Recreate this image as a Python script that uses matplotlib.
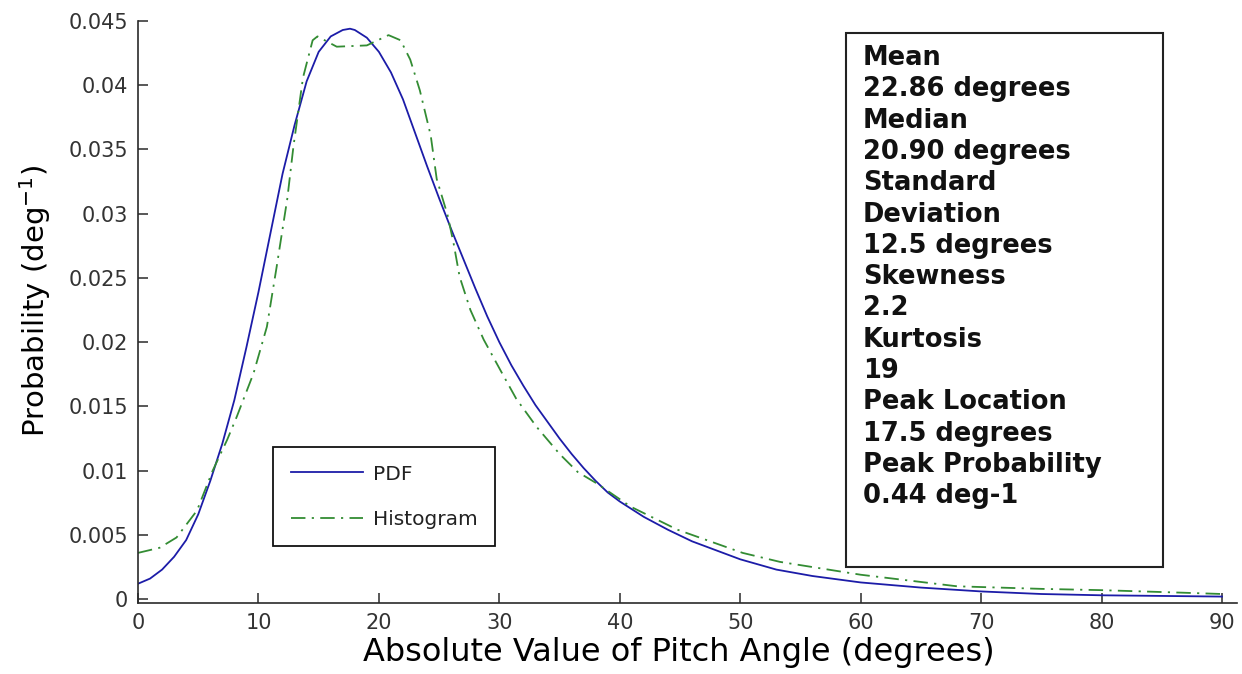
import numpy as np
import matplotlib
matplotlib.use("Agg")
import matplotlib.pyplot as plt
from matplotlib.patches import Rectangle
from matplotlib.ticker import FixedLocator, FixedFormatter

# Fitted probability density of |pitch angle|
pdf_x = [0, 1, 2, 3, 4, 5, 6, 7, 8, 9, 10, 11, 12, 13, 14, 15, 16, 17, 17.6,
         18, 19, 20, 21, 22, 23, 24, 25, 26, 27, 28, 29, 30, 31, 32, 33, 34,
         35, 36, 37, 38, 39, 40, 42, 44, 46, 48, 50, 53, 56, 60, 65, 70, 75,
         80, 85, 90]
pdf_y = [0.0012, 0.0016, 0.0023, 0.0033, 0.0046, 0.0066, 0.0092, 0.0121,
         0.0155, 0.0196, 0.0239, 0.0285, 0.0331, 0.0369, 0.0403, 0.0426,
         0.0438, 0.0443, 0.0444, 0.0443, 0.0437, 0.0426, 0.0410, 0.0389,
         0.0363, 0.0337, 0.0312, 0.0288, 0.0265, 0.0242, 0.0220, 0.0200,
         0.0182, 0.0166, 0.0151, 0.0138, 0.0125, 0.0113, 0.0102, 0.0092,
         0.0083, 0.0076, 0.0064, 0.0054, 0.0045, 0.0038, 0.0031, 0.0023,
         0.0018, 0.0013, 0.0009, 0.0006, 0.0004, 0.0003, 0.00025, 0.0002]

# Normalised histogram of the same angles
hist_x = [0, 1.8, 3.2, 4.9, 6.2, 7.4, 8.2, 9.6, 10.7, 11.5, 12.4, 12.9, 13.7,
          14.5, 14.9, 16.5, 19.0, 20.8, 21.8, 22.6, 23.4, 24.3, 24.8, 25.7,
          26.2, 26.7, 27.6, 28.7, 30.1, 31.4, 33.1, 35.0, 36.5, 38.1, 40.9,
          44.8, 50.2, 53.3, 60.0, 68.0, 75.0, 80.0, 86.8, 90.0]
hist_y = [0.0036, 0.0040, 0.0048, 0.0069, 0.0100, 0.0124, 0.0142, 0.0176,
          0.0212, 0.0258, 0.0312, 0.0352, 0.0406, 0.0435, 0.0438, 0.0430,
          0.0431, 0.0439, 0.0435, 0.0420, 0.0396, 0.0361, 0.0327, 0.0299,
          0.0277, 0.0251, 0.0225, 0.0202, 0.0178, 0.0156, 0.0134, 0.0113,
          0.0099, 0.0090, 0.0072, 0.0054, 0.0036, 0.0029, 0.0019, 0.0010,
          0.0008, 0.0007, 0.0005, 0.0004]

x_ticks = [0, 10, 20, 30, 40, 50, 60, 70, 80, 90]
x_tick_labels = ["0", "10", "20", "30", "40", "50", "60", "70", "80", "90"]
y_ticks = [0, 0.005, 0.01, 0.015, 0.02, 0.025, 0.03, 0.035, 0.04, 0.045]
y_tick_labels = ["0", "0.005", "0.01", "0.015", "0.02", "0.025", "0.03",
                 "0.035", "0.04", "0.045"]

stats_lines = ["Mean", "22.86 degrees", "Median", "20.90 degrees",
               "Standard", "Deviation", "12.5 degrees", "Skewness", "2.2",
               "Kurtosis", "19", "Peak Location", "17.5 degrees",
               "Peak Probability", "0.44 deg-1"]

plt.rcParams["font.family"] = ["DejaVu Sans"]

W, H = 1242, 674
fig = plt.figure(figsize=(W / 100, H / 100), dpi=100)
ax = fig.add_axes([138 / W, 1 - 603 / H, 1098.5 / W, 582 / H])

line_pdf, = ax.plot(pdf_x, pdf_y, color="#1c1ca8", lw=1.3, label="PDF")
line_hist, = ax.plot(hist_x, hist_y, color="#338c33", lw=1.3,
                     dashes=(8, 3.5, 1.2, 3.5), label="Histogram")

ax.set_xlim(0, 91.2)
ax.set_ylim(-0.0003, 0.045)

ax.xaxis.set_major_locator(FixedLocator(x_ticks))
ax.xaxis.set_major_formatter(FixedFormatter(x_tick_labels))
ax.yaxis.set_major_locator(FixedLocator(y_ticks))
ax.yaxis.set_major_formatter(FixedFormatter(y_tick_labels))

for side in ("top", "right"):
    ax.spines[side].set_visible(False)
for side in ("left", "bottom"):
    ax.spines[side].set_color("#2a2a2a")
    ax.spines[side].set_linewidth(1.2)

ax.tick_params(direction="in", length=7, width=1.1, color="#2a2a2a",
               labelsize=15, labelcolor="#333333")
ax.tick_params(axis="x", pad=7)
ax.tick_params(axis="y", pad=7)

ax.set_xlabel("Absolute Value of Pitch Angle (degrees)", fontsize=23)
ax.xaxis.set_label_coords(0.4925, -0.058)
ax.set_ylabel(r"Probability (deg$^{\mathregular{-1}}$)", fontsize=21)
ax.yaxis.set_label_coords(-0.077, 0.52)

leg = ax.legend(handles=[line_pdf, line_hist], loc="upper left",
                bbox_to_anchor=((273 - 138) / 1098.5, (603 - 447) / 582),
                borderaxespad=0, fontsize=14.5, handlelength=3.6,
                handletextpad=0.5, borderpad=0.87, labelspacing=1.3,
                fancybox=False, framealpha=1, edgecolor="#111111")
leg.get_frame().set_linewidth(1.3)
for t in leg.get_texts():
    t.set_color("#222222")

# Summary statistics panel
fig.add_artist(Rectangle((846 / W, 1 - 567 / H), (1163 - 846) / W,
                         (567 - 33) / H, transform=fig.transFigure,
                         facecolor="white", edgecolor="#222222", lw=1.5))
for i, s in enumerate(stats_lines):
    fig.text(863 / W, 1 - (65 + i * 31.3) / H, s, fontsize=18.5,
             fontweight="bold", color="#111111", va="baseline", ha="left")

fig.savefig("out.png", dpi=100, facecolor="white")
